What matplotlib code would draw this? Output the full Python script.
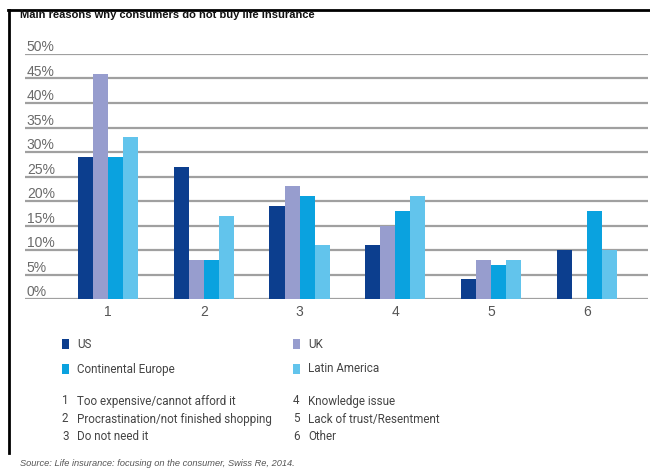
import matplotlib
matplotlib.use("Agg")
import matplotlib.pyplot as plt
from matplotlib.lines import Line2D
from matplotlib.patches import Rectangle
import numpy as np

plt.rcParams['font.family'] = ['Liberation Sans', 'DejaVu Sans']
KEYFONT = ['Roboto', 'Liberation Sans', 'DejaVu Sans']

# Survey data: share of respondents giving each reason (%)
reasons = ["1", "2", "3", "4", "5", "6"]
reason_text = [
    "Too expensive/cannot afford it",
    "Procrastination/not finished shopping",
    "Do not need it",
    "Knowledge issue",
    "Lack of trust/Resentment",
    "Other",
]
regions = ["US", "UK", "Continental Europe", "Latin America"]
us = [29, 27, 19, 11, 4, 10]
uk = [46, 8, 23, 15, 8, 0]
continental_europe = [29, 8, 21, 18, 7, 18]
latin_america = [33, 17, 11, 21, 8, 10]
y_ticks = [0, 5, 10, 15, 20, 25, 30, 35, 40, 45, 50]

series = [us, uk, continental_europe, latin_america]
colors = ["#0c3e8e", "#979dce", "#0aa2df", "#62c4ec"]

W, H = 650, 468
fig = plt.figure(figsize=(W / 100, H / 100), dpi=100)
fig.patch.set_facecolor("white")

ax = fig.add_axes([25 / W, 1 - 299 / H, (648 - 25) / W, (299 - 54) / H])
ax.set_facecolor("white")

x = np.arange(len(reasons))
bw = 0.157
offsets = [-1.5, -0.5, 0.5, 1.5]
for vals, col, off in zip(series, colors, offsets):
    ax.bar(x + off * bw, vals, width=bw, color=col, zorder=3, linewidth=0)

ax.set_xlim(-0.866, 5.637)
ax.set_ylim(0, 50)
for v in y_ticks:
    ax.axhline(v, color="#a0a0a0", linewidth=1.6, zorder=1)
    ax.text(0.003, v + 0.55, f"{v}%", transform=ax.get_yaxis_transform(),
            ha="left", va="baseline", fontsize=10, color="#6a6a6a")

ax.set_yticks([])
ax.set_xticks(x)
ax.set_xticklabels(reasons, fontsize=10, color="#555555")
ax.tick_params(axis="x", length=0, pad=4)
for s in ax.spines.values():
    s.set_visible(False)

# Legend swatches and labels
def fx(px):
    return px / W

def fy(py):
    return 1 - py / H

legend_pos = [(62, 344), (293, 344), (62, 369), (293, 369)]
for (px, py), name, col in zip(legend_pos, regions, colors):
    fig.add_artist(Rectangle((fx(px), fy(py + 5)), 7 / W, 10 / H,
                             transform=fig.transFigure, color=col, lw=0))
    fig.text(fx(px + 15), fy(py), name, fontsize=8.4, color="#444444",
             ha="left", va="center", family=KEYFONT)

# Numbered key of reasons
key_pos = [(62, 401), (62, 419), (62, 437), (293, 401), (293, 419), (293, 437)]
for (px, py), num, txt in zip(key_pos, reasons, reason_text):
    fig.text(fx(px), fy(py), num, fontsize=8.4, color="#444444", ha="left",
             va="center", family=KEYFONT)
    fig.text(fx(px + 15), fy(py), txt, fontsize=8.4, color="#444444", ha="left",
             va="center", family=KEYFONT)

# Title, frame and source line
fig.text(fx(20), fy(15), "Main reasons why consumers do not buy life insurance",
         fontsize=8.0, fontweight="bold", color="#111111", ha="left", va="center")
fig.add_artist(Line2D([fx(8), 1], [fy(9.5), fy(9.5)], transform=fig.transFigure,
                      color="black", linewidth=2))
fig.add_artist(Line2D([fx(8.5), fx(8.5)], [fy(9.5), fy(453)], transform=fig.transFigure,
                      color="black", linewidth=2))
fig.text(fx(20), fy(463), "Source: Life insurance: focusing on the consumer, Swiss Re, 2014.",
         fontsize=6.7, style="italic", color="#555555", ha="left", va="center")

fig.savefig("out.png", dpi=100, facecolor="white")
